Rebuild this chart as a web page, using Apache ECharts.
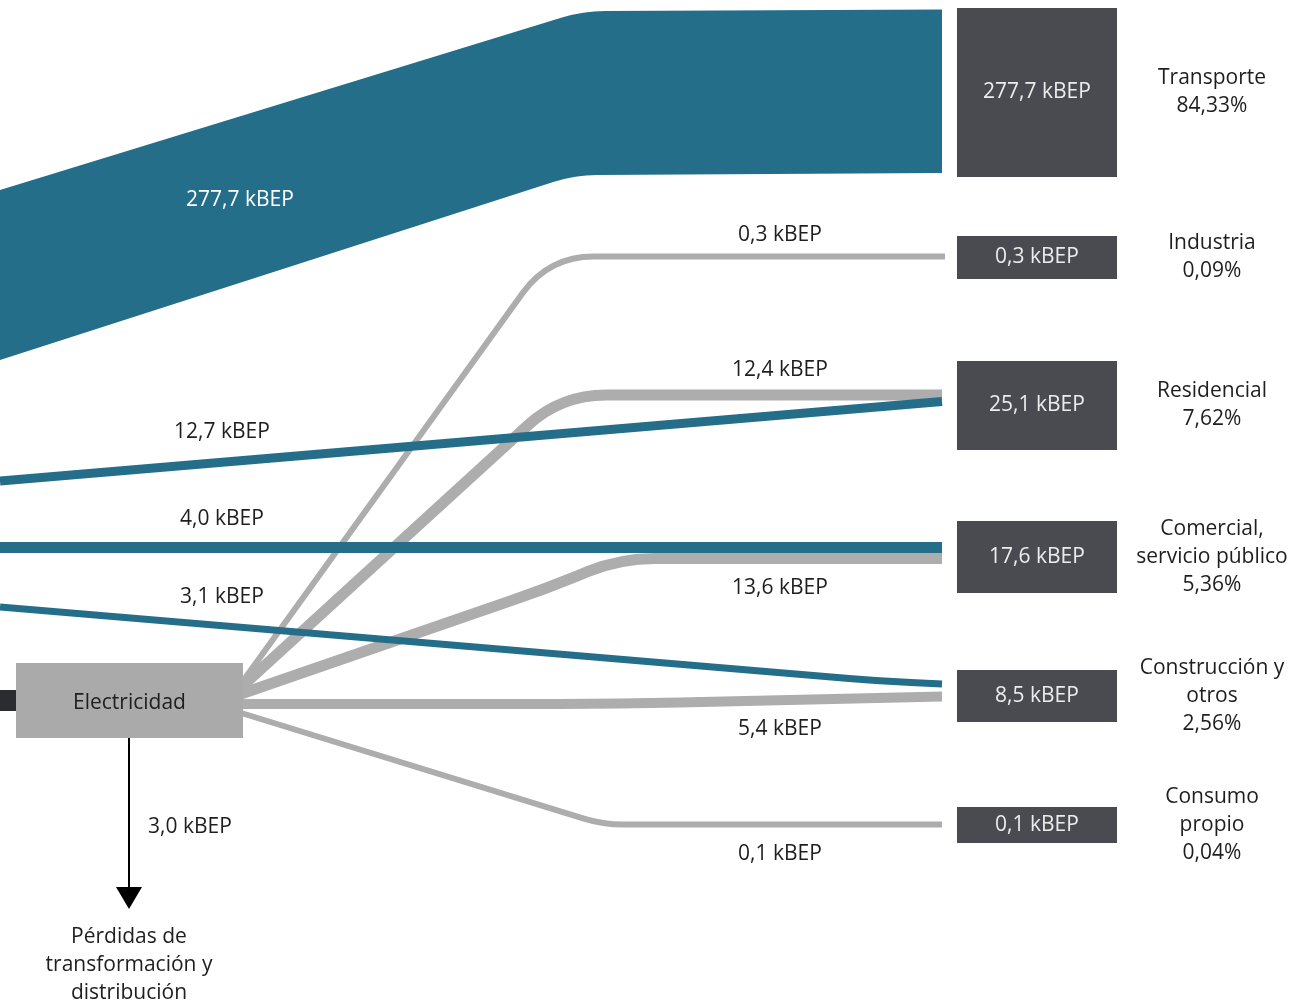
<!DOCTYPE html>
<html><head><meta charset="utf-8">
<script src="https://cdn.jsdelivr.net/npm/echarts@6/dist/echarts.min.js"></script>
<style>html,body{margin:0;padding:0;background:#fff}#c{width:1295px;height:1002px}</style>
</head><body><div id="c"></div>
<script>
// ---------------- DATA ----------------
const sectorNames = ['Transporte', 'Industria', 'Residencial', 'Comercial,\nservicio público', 'Construcción y\notros', 'Consumo\npropio'];
const sectorTotals = [277.7, 0.3, 25.1, 17.6, 8.5, 0.1];      // kBEP
const sectorShares = [84.33, 0.09, 7.62, 5.36, 2.56, 0.04];    // %
const fuelTargets = [0, 2, 3, 4];                               // direct (non-electric) flows
const fuelValues = [277.7, 12.7, 4.0, 3.1];
const elecName = 'Electricidad';
const elecTargets = [1, 2, 3, 4, 5];                            // flows from electricity
const elecValues = [0.3, 12.4, 13.6, 5.4, 0.1];
const lossName = 'Pérdidas de\ntransformación y\ndistribución';
const lossValue = 3.0;
const unit = 'kBEP';

// ---------------- LAYOUT / STYLE ----------------
const FONT = '21px "Open Sans", "Noto Sans", sans-serif';
const C = { blue: '#246e8a', grey: '#acadac', box: '#4a4b50', elec: '#a9aaa9', stub: '#2a2c30', text: '#1e1e1e', boxText: '#ececec' };
const L = {
  box: { x0: 957, x1: 1117, y: [[8, 177], [236, 279], [361, 450], [521, 593], [670, 722], [807, 843]] },
  labelX: 1212,
  elecBox: { x0: 16, y0: 663, x1: 243, y1: 738 },
  stub: { x0: 0, y0: 690, x1: 16, y1: 711 },
  arrow: { x: 129, y0: 738, y1: 909, half: 13, len: 22 },
  lossText: { x: 129, y: 965 },
  lossValText: { x: 148, y: 827.5 },
  band: { pts: [[0, 190], [583, 11], [942, 9.5], [942, 173], [575, 175], [0, 360]], r: [0, 22, 0, 0, 22, 0] },
  fuelRoutes: [null,
    { pts: [[0, 481], [942, 401.5]], w: 9, r: 0 },
    { pts: [[0, 547.5], [942, 547.5]], w: 11, r: 0 },
    { pts: [[0, 607], [880, 681], [942, 684]], w: 7, r: 60 }],
  fuelLabels: [[240, 200.5], [222, 432.5], [222, 519.5], [222, 597.5]],
  elecRoutes: [
    { pts: [[238, 688], [549, 256.5], [945, 256.5]], w: 6, r: 45 },
    { pts: [[238, 690], [561, 395], [942, 395]], w: 11, r: 45 },
    { pts: [[238, 695], [545, 589], [620, 558.5], [942, 558.5]], w: 11, r: 35 },
    { pts: [[238, 704], [620, 704], [942, 696.5]], w: 10, r: 60 },
    { pts: [[238, 712], [603, 824.5], [942, 824.5]], w: 6, r: 20 }],
  elecLabels: [[780, 235.5], [780, 370.5], [780, 588.5], [780, 729.5], [780, 854.5]]
};

const fmt = (v, d) => v.toFixed(d).replace('.', ',');
const kb = v => fmt(v, 1) + ' ' + unit;

function buildPath(P, radii, closed) {
  const r = Array.isArray(radii) ? radii : P.map(() => radii);
  let d = 'M' + P[0][0] + ' ' + P[0][1];
  for (let i = 1; i < P.length - 1; i++) {
    const a = P[i - 1], b = P[i], c = P[i + 1];
    const l1 = Math.hypot(b[0] - a[0], b[1] - a[1]), l2 = Math.hypot(c[0] - b[0], c[1] - b[1]);
    const rr = Math.min(r[i] || 0, l1 / 2, l2 / 2);
    if (rr <= 0) { d += ' L' + b[0] + ' ' + b[1]; continue; }
    const p1 = [b[0] - (b[0] - a[0]) * rr / l1, b[1] - (b[1] - a[1]) * rr / l1];
    const p2 = [b[0] + (c[0] - b[0]) * rr / l2, b[1] + (c[1] - b[1]) * rr / l2];
    d += ' L' + p1[0] + ' ' + p1[1] + ' Q' + b[0] + ' ' + b[1] + ' ' + p2[0] + ' ' + p2[1];
  }
  const e = P[P.length - 1];
  d += ' L' + e[0] + ' ' + e[1];
  if (closed) d += ' Z';
  return d;
}
const toPx = (api, pts) => pts.map(p => api.coord(p));
const txt = (api, x, y, s, extra) => {
  const p = api.coord([x, y]);
  return { type: 'text', style: Object.assign({ text: s, x: p[0], y: p[1], font: FONT, fill: C.text, align: 'center', verticalAlign: 'middle', lineHeight: 28 }, extra || {}) };
};

const chart = echarts.init(document.getElementById('c'), null, { renderer: 'canvas' });
chart.setOption({
  animation: false,
  backgroundColor: '#ffffff',
  grid: { left: 0, right: 0, top: 0, bottom: 0 },
  xAxis: { type: 'value', min: 0, max: 1295, show: false },
  yAxis: { type: 'value', min: 0, max: 1002, inverse: true, show: false },
  series: [
    { // electricity -> sector links (grey)
      type: 'custom', name: 'elecLinks', silent: true, z: 1,
      data: elecValues.map((v, i) => ({ value: [elecTargets[i], v] })),
      renderItem: (params, api) => {
        const i = params.dataIndex, R = L.elecRoutes[i], lab = L.elecLabels[i];
        return { type: 'group', children: [
          { type: 'path', shape: { pathData: buildPath(toPx(api, R.pts), R.r, false) },
            style: { fill: 'none', stroke: C.grey, lineWidth: R.w, lineJoin: 'round', lineCap: 'butt' } },
          txt(api, lab[0], lab[1], kb(api.value(1)))
        ] };
      }
    },
    { // direct fuel -> sector links (blue)
      type: 'custom', name: 'fuelLinks', silent: true, z: 2,
      data: fuelValues.map((v, i) => ({ value: [fuelTargets[i], v] })),
      renderItem: (params, api) => {
        const i = params.dataIndex, lab = L.fuelLabels[i];
        let shape;
        if (i === 0) {
          shape = { type: 'path', shape: { pathData: buildPath(toPx(api, L.band.pts), L.band.r, true) }, style: { fill: C.blue } };
        } else {
          const R = L.fuelRoutes[i];
          shape = { type: 'path', shape: { pathData: buildPath(toPx(api, R.pts), R.r, false) },
            style: { fill: 'none', stroke: C.blue, lineWidth: R.w, lineJoin: 'round', lineCap: 'butt' } };
        }
        return { type: 'group', children: [shape,
          txt(api, lab[0], lab[1], kb(api.value(1)), i === 0 ? { fill: '#ffffff' } : {})] };
      }
    },
    { // electricity node + losses arrow
      type: 'custom', name: 'elecNode', silent: true, z: 3,
      data: [{ value: [0, lossValue] }],
      renderItem: (params, api) => {
        const b = L.elecBox, s = L.stub, a = L.arrow;
        const p0 = api.coord([b.x0, b.y0]), p1 = api.coord([b.x1, b.y1]);
        const s0 = api.coord([s.x0, s.y0]), s1 = api.coord([s.x1, s.y1]);
        const a0 = api.coord([a.x, a.y0]), a1 = api.coord([a.x, a.y1]);
        return { type: 'group', children: [
          { type: 'rect', shape: { x: s0[0], y: s0[1], width: s1[0] - s0[0], height: s1[1] - s0[1] }, style: { fill: C.stub } },
          { type: 'rect', shape: { x: p0[0], y: p0[1], width: p1[0] - p0[0], height: p1[1] - p0[1] }, style: { fill: C.elec } },
          txt(api, (b.x0 + b.x1) / 2, (b.y0 + b.y1) / 2 + 3, elecName),
          { type: 'line', shape: { x1: a0[0], y1: a0[1], x2: a1[0], y2: a1[1] - a.len + 2 }, style: { stroke: '#000', lineWidth: 2 } },
          { type: 'polygon', shape: { points: [[a1[0] - a.half, a1[1] - a.len], [a1[0] + a.half, a1[1] - a.len], [a1[0], a1[1]]] }, style: { fill: '#000' } },
          txt(api, L.lossValText.x, L.lossValText.y, kb(api.value(1)), { align: 'left' }),
          txt(api, L.lossText.x, L.lossText.y, lossName)
        ] };
      }
    },
    { // sector nodes
      type: 'custom', name: 'sectors', silent: true, z: 3,
      data: sectorTotals.map((v, i) => ({ value: [i, v] })),
      renderItem: (params, api) => {
        const i = params.dataIndex, y = L.box.y[i];
        const p0 = api.coord([L.box.x0, y[0]]), p1 = api.coord([L.box.x1, y[1]]);
        const cy = (y[0] + y[1]) / 2;
        return { type: 'group', children: [
          { type: 'rect', shape: { x: p0[0], y: p0[1], width: p1[0] - p0[0], height: p1[1] - p0[1] }, style: { fill: C.box } },
          txt(api, (L.box.x0 + L.box.x1) / 2, cy, kb(api.value(1)), { fill: C.boxText }),
          txt(api, L.labelX, cy, sectorNames[i] + '\n' + fmt(sectorShares[i], 2) + '%')
        ] };
      }
    }
  ]
});
</script></body></html>
